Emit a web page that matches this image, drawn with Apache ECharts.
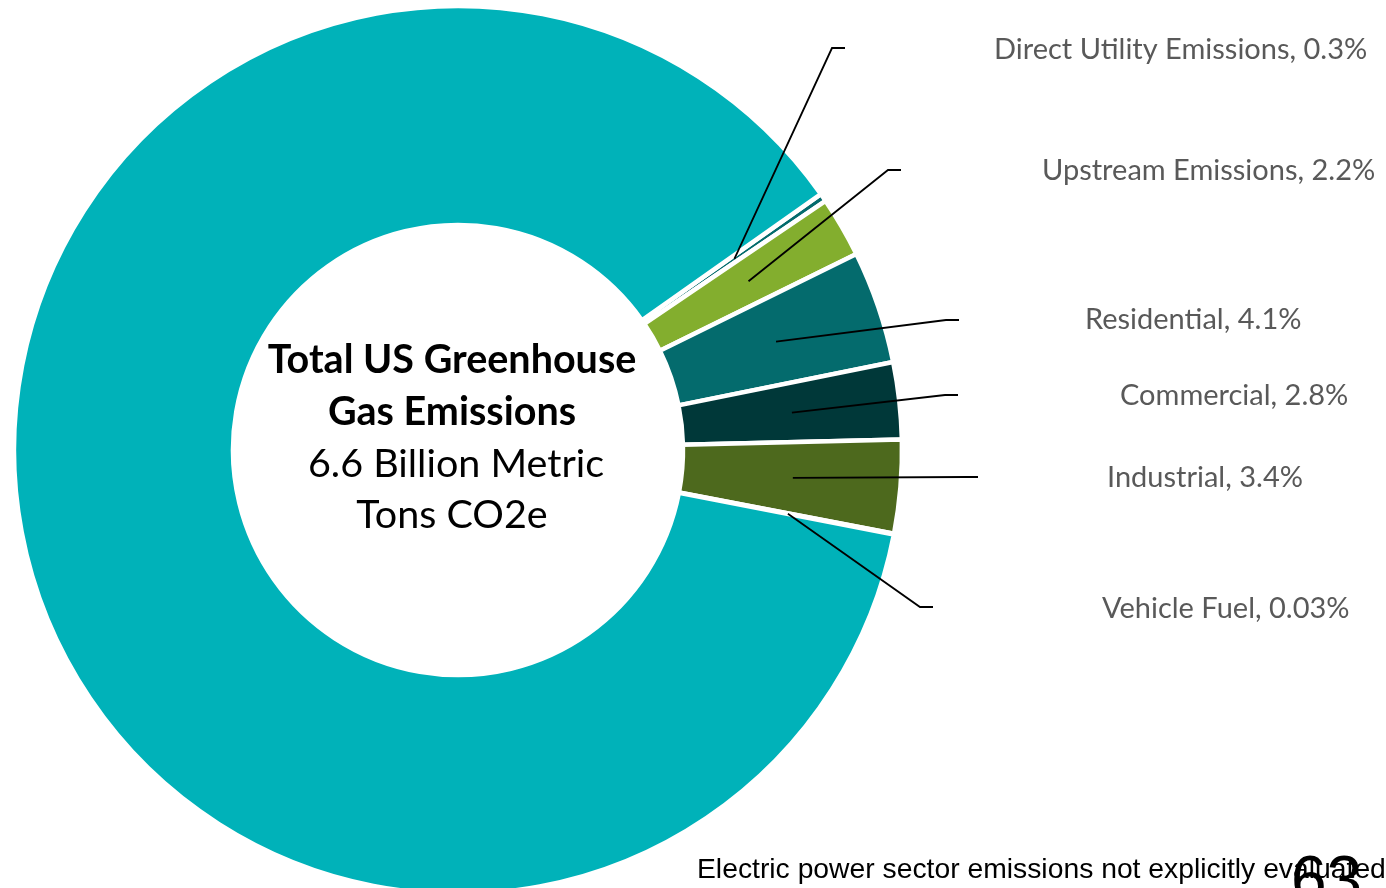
<!DOCTYPE html>
<html>
<head>
<meta charset="utf-8">
<script src="https://cdn.jsdelivr.net/npm/echarts@6/dist/echarts.min.js"></script>
<style>
html,body{margin:0;padding:0;background:#fff;}
#chart{width:1386px;height:888px;}
</style>
</head>
<body>
<div id="chart"></div>
<script>
// ---- data ----
var categories = ['Direct Utility Emissions', 'Upstream Emissions', 'Residential', 'Commercial', 'Industrial', 'Vehicle Fuel', 'Other US Emissions'];
var shares = [0.3, 2.2, 4.1, 2.8, 3.4, 0.03, 87.17];
var shareLabels = ['0.3', '2.2', '4.1', '2.8', '3.4', '0.03', ''];
var centerTitle = ['Total US Greenhouse', 'Gas Emissions'];
var centerSub = ['6.6 Billion Metric', 'Tons CO2e'];
var footnote = 'Electric power sector emissions not explicitly evaluated';
var pageNumber = '63';

// ---- layout / style ----
var colors = ['#046B6D', '#83AE2E', '#046B6D', '#003839', '#4D691D', '#046B6D', '#00B2B9'];
var CX = 458, CY = 450, R0 = 225, R1 = 444;
var START = 35.2;
var LINE_R = 336;
// label anchor (left x, middle y) and leader elbow, per data index
var labelPos = [[994, 50], [1042, 171], [1085, 320], [1120, 396], [1107, 478], [1102, 609]];
var elbow = [[832, 48], [888, 170], [946, 320], [945, 395], [966, 477], [920, 607]];

var total = shares.reduce(function (a, b) { return a + b; }, 0);
function midAngle(i) {
  var cum = 0;
  for (var k = 0; k < i; k++) cum += shares[k];
  var deg = START - 360 * (cum + shares[i] / 2) / total;
  return deg * Math.PI / 180;
}

var data = categories.map(function (c, i) {
  var d = { name: c, value: shares[i], itemStyle: { color: colors[i] } };
  if (i === categories.length - 1) {
    d.label = { show: false };
  }
  return d;
});

// leader lines, drawn above the ring, starting at each slice's mid-angle
var leaders = labelPos.map(function (lp, i) {
  var a = midAngle(i);
  var sx = CX + LINE_R * Math.cos(a), sy = CY - LINE_R * Math.sin(a);
  var e = elbow[i];
  var endX = (i === 4) ? 978 : e[0] + 13;
  return {
    type: 'polyline',
    z: 100,
    silent: true,
    shape: { points: [[sx, sy], [e[0], e[1]], [endX, e[1]]] },
    style: { stroke: '#000', lineWidth: 1.8, fill: null }
  };
});

var chart = echarts.init(document.getElementById('chart'), null, { renderer: 'canvas' });
chart.setOption({
  animation: false,
  backgroundColor: '#fff',
  series: [{
    type: 'pie',
    center: [CX, CY],
    radius: [R0, R1],
    startAngle: START,
    clockwise: true,
    avoidLabelOverlap: false,
    silent: true,
    data: data,
    itemStyle: { borderColor: '#fff', borderWidth: 4.5 },
    emphasis: { disabled: true },
    label: {
      show: true,
      position: 'outside',
      fontFamily: 'Lato',
      fontSize: 29,
      color: '#595959',
      formatter: function (p) { return p.name + ', ' + shareLabels[p.dataIndex] + '%'; }
    },
    labelLine: { show: false },
    labelLayout: function (p) {
      var i = p.dataIndex;
      if (i >= labelPos.length) return {};
      return {
        x: labelPos[i][0],
        y: labelPos[i][1],
        align: 'left',
        verticalAlign: 'middle'
      };
    }
  }],
  graphic: leaders.concat([
    { type: 'text', x: 452, y: 360, style: { text: centerTitle[0], font: 'bold 39.5px Lato', fill: '#000', align: 'center', verticalAlign: 'middle' } },
    { type: 'text', x: 452, y: 412, style: { text: centerTitle[1], font: 'bold 39.5px Lato', fill: '#000', align: 'center', verticalAlign: 'middle' } },
    { type: 'text', x: 456, y: 464, style: { text: centerSub[0], font: '39.5px Lato', fill: '#000', align: 'center', verticalAlign: 'middle' } },
    { type: 'text', x: 452, y: 515, style: { text: centerSub[1], font: '39.5px Lato', fill: '#000', align: 'center', verticalAlign: 'middle' } },
    { type: 'text', x: 697, y: 870, style: { text: footnote, font: '28.3px "Liberation Sans"', fill: '#000', align: 'left', verticalAlign: 'middle' } },
    { type: 'text', x: 1291, y: 851, style: { text: pageNumber, font: '64px "Liberation Sans"', fill: '#000', align: 'left', verticalAlign: 'top' } }
  ])
});
</script>
</body>
</html>
